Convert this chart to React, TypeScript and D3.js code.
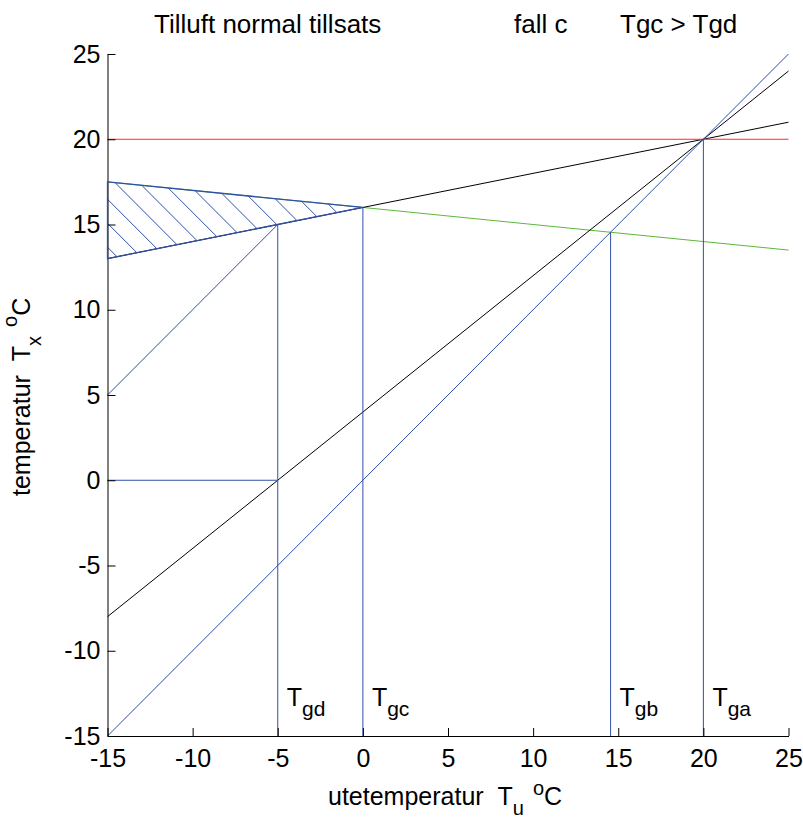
import * as d3 from 'd3';
import { useEffect, useRef } from 'react';

const W = 803;
const H = 818;

const xTicks = [-15, -10, -5, 0, 5, 10, 15, 20, 25];
const yTicks = [-15, -10, -5, 0, 5, 10, 15, 20, 25];

// lines, [ute, tx] pairs
const redLine: [number, number][] = [[-15, 20], [25, 20]];
const blueDiag: [number, number][] = [[-15, -15], [25, 25]];
const blackSteep: [number, number][] = [[-15, -8], [25, 24]];
const blackFlat: [number, number][] = [[-15, 13], [25, 21]];
const greenLine: [number, number][] = [[-15, 17.5], [25, 13.5]];
const blueOffset: [number, number][] = [[-15, 5], [-5, 15]];
const blueZero: [number, number][] = [[-15, 0], [-5, 0]];
const hatchArea: [number, number][] = [[-15, 17.5], [0, 16], [-15, 13]];
// hatch lines y = c - x
const hatchC = [-1.33, 0.07, 1.48, 2.9, 4.31, 5.71, 7.13, 8.54, 9.94, 11.36, 12.76, 14.17];

const gLabels = ['gd', 'gc', 'gb', 'ga'];
const gX = [-5, 0, 14.55, 20];
const gTop = [15, 16, 14.55, 20];

const FONT = '"Liberation Sans", Arial, Helvetica, sans-serif';
const BLUE = '#3050a8';
const GREEN = '#5cb838';
const RED = '#ff2a2a';

export default function App() {
    const axRef = useRef<SVGGElement>(null);

    const x = d3.scaleLinear().domain([-15, 25]).range([107.5, 788.5]);
    const y = d3.scaleLinear().domain([-15, 25]).range([736, 54]);
    const line = d3
        .line<[number, number]>()
        .x((d) => x(d[0]))
        .y((d) => y(d[1]));

    useEffect(() => {
        if (!axRef.current) {
            return;
        }
        const g = d3.select(axRef.current);
        g.selectAll('*').remove();

        const fmt = (d: d3.NumberValue) => String(d);
        const left = g
            .append('g')
            .attr('transform', `translate(${x(-15)},0)`)
            .call(
                d3.axisLeft(y).tickValues(yTicks).tickFormat(fmt).tickSize(-8).tickSizeOuter(0).tickPadding(7),
            );
        const bottom = g
            .append('g')
            .attr('transform', `translate(0,${y(-15)})`)
            .call(
                d3.axisBottom(x).tickValues(xTicks).tickFormat(fmt).tickSize(-8).tickSizeOuter(0).tickPadding(13),
            );

        [left, bottom].forEach((a) => {
            a.attr('font-family', FONT).attr('font-size', 25);
            a.selectAll('text').attr('fill', '#000');
            a.selectAll('line, path').attr('stroke', '#000').attr('stroke-width', 1);
        });
    }, []);

    const poly = hatchArea.map((p) => `${x(p[0])},${y(p[1])}`).join(' ');

    return (
        <svg width={W} height={H} style={{ position: 'absolute', left: 0, top: 0, background: '#fff' }}>
            <defs>
                <clipPath id="hatchClip">
                    <polygon points={poly} />
                </clipPath>
            </defs>
            <g fill="none" strokeWidth={1}>
                <path d={line(greenLine) ?? ''} stroke={GREEN} />
                <path d={line(blackFlat) ?? ''} stroke="#000" />
                <path d={line(blackSteep) ?? ''} stroke="#000" />
                <path d={line(redLine) ?? ''} stroke={RED} />
                <path d={line(blueDiag) ?? ''} stroke={BLUE} />
                <path d={line(blueOffset) ?? ''} stroke={BLUE} />
                <path d={line(blueZero) ?? ''} stroke={BLUE} />
                {gX.map((gx, i) => (
                    <path key={i} d={line([[gx, -15], [gx, gTop[i]]]) ?? ''} stroke={BLUE} />
                ))}
                <g clipPath="url(#hatchClip)">
                    {hatchC.map((c) => (
                        <path key={c} d={line([[-17, c + 17], [2, c - 2]]) ?? ''} stroke={BLUE} />
                    ))}
                </g>
            </g>
            <g ref={axRef} />
            <polygon points={poly} fill="none" stroke={BLUE} strokeWidth={1.3} />

            <g fontFamily={FONT} fontSize={25} fill="#000">
                <g fontSize={26}>
                    <text x={154} y={33}>Tilluft normal tillsats</text>
                    <text x={514} y={33}>fall c</text>
                    <text x={620} y={33}>Tgc &gt; Tgd</text>
                </g>

                {gX.map((gx, i) => (
                    <text key={i} x={x(gx) + 9} y={706}>
                        T<tspan fontSize={21} dy={10}>{gLabels[i]}</tspan>
                    </text>
                ))}

                <text x={328} y={805}>
                    utetemperatur{'\u00a0\u00a0'}T<tspan fontSize={20} dy={10}>u</tspan>
                    <tspan fontSize={20} dy={-20} dx={9}>o</tspan>
                    <tspan dy={10}>C</tspan>
                </text>

                <text transform="translate(30,496) rotate(-90)">
                    temperatur{'\u00a0\u00a0'}T<tspan fontSize={20} dy={11}>x</tspan>
                    <tspan fontSize={20} dy={-24} dx={9}>o</tspan>
                    <tspan dy={13}>C</tspan>
                </text>
            </g>
        </svg>
    );
}
